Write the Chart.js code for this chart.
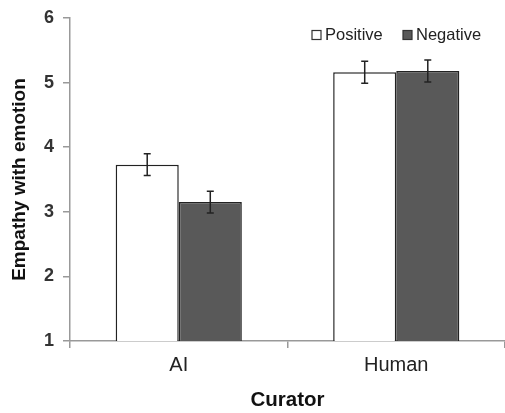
<!DOCTYPE html>
<html>
<head>
<meta charset="utf-8">
<script src="https://cdn.jsdelivr.net/npm/chart.js@4"></script>
<style>
  html, body { margin: 0; padding: 0; background: #fff; }
  #wrap { width: 505px; height: 413px; }
</style>
</head>
<body>
<div id="wrap"><canvas id="chart" width="505" height="413"></canvas></div>
<script>
const categories = ['AI', 'Human'];
const seriesNames = ['Positive', 'Negative'];
const positiveMeans = [3.73, 5.16];
const negativeMeans = [3.15, 5.18];
const positiveErrors = [0.17, 0.17];
const negativeErrors = [0.17, 0.17];
const yTicks = [1, 2, 3, 4, 5, 6];

const errors = [positiveErrors, negativeErrors];
const fillColors = ['#ffffff', '#595959'];
const fontFamily = '"Liberation Sans", Arial, sans-serif';

// error bars drawn on top of each bar
const errorBars = {
    id: 'errorBars',
    afterDatasetsDraw(chart) {
        const ctx = chart.ctx;
        const y = chart.scales.y;
        ctx.save();
        ctx.strokeStyle = '#222';
        ctx.lineWidth = 1.5;
        chart.data.datasets.forEach((ds, di) => {
            const meta = chart.getDatasetMeta(di);
            meta.data.forEach((bar, i) => {
                const v = ds.data[i];
                const e = errors[di][i];
                const top = y.getPixelForValue(v + e);
                const bot = y.getPixelForValue(v - e);
                ctx.beginPath();
                ctx.moveTo(bar.x, top); ctx.lineTo(bar.x, bot);
                ctx.moveTo(bar.x - 3.5, top); ctx.lineTo(bar.x + 3.5, top);
                ctx.moveTo(bar.x - 3.5, bot); ctx.lineTo(bar.x + 3.5, bot);
                ctx.stroke();
            });
        });
        ctx.restore();
    }
};

// legend inside the plot, top right
const innerLegend = {
    id: 'innerLegend',
    afterDraw(chart) {
        const ctx = chart.ctx;
        const pos = [312, 403];
        const cy = 35;
        ctx.save();
        ctx.font = '16.5px ' + fontFamily;
        ctx.textBaseline = 'middle';
        seriesNames.forEach((name, i) => {
            ctx.fillStyle = fillColors[i];
            ctx.strokeStyle = '#333';
            ctx.lineWidth = 1.2;
            ctx.fillRect(pos[i], cy - 4.5, 9, 9);
            ctx.strokeRect(pos[i], cy - 4.5, 9, 9);
            ctx.fillStyle = '#222';
            ctx.fillText(name, pos[i] + 13, cy);
        });
        ctx.restore();
    }
};

new Chart(document.getElementById('chart'), {
    type: 'bar',
    data: {
        labels: categories,
        datasets: [
            { label: seriesNames[0], data: positiveMeans, backgroundColor: fillColors[0], borderColor: '#222', borderWidth: 1.5 },
            { label: seriesNames[1], data: negativeMeans, backgroundColor: fillColors[1], borderColor: '#222', borderWidth: 1.5 }
        ]
    },
    options: {
        responsive: false,
        animation: false,
        layout: { padding: { top: 18, right: 0, left: 0, bottom: 0 } },
        plugins: { legend: { display: false }, tooltip: { enabled: false } },
        datasets: { bar: { barPercentage: 1, categoryPercentage: 0.58 } },
        scales: {
            x: {
                grid: { offset: true, drawOnChartArea: false, tickLength: 7, color: '#999', lineWidth: 1.5 },
                border: { color: '#999', width: 1.5 },
                ticks: { color: '#222', font: { family: fontFamily, size: 20 }, padding: 5 },
                title: { display: true, text: 'Curator', color: '#111', font: { family: fontFamily, size: 20.5, weight: 'bold' }, padding: { top: 10, bottom: 0 } },
                afterFit(s) { s.height = 72; }
            },
            y: {
                min: 1, max: 6,
                afterBuildTicks(s) { s.ticks = yTicks.map(v => ({ value: v })); },
                grid: { drawOnChartArea: false, tickLength: 7, color: '#999', lineWidth: 1.5 },
                border: { color: '#999', width: 1.5 },
                ticks: { color: '#333', font: { family: fontFamily, size: 18, weight: 'bold', lineHeight: 1 }, padding: 9 },
                title: { display: true, text: 'Empathy with emotion', color: '#111', font: { family: fontFamily, size: 19, weight: 'bold' }, padding: { top: 8, bottom: 2 } },
                afterFit(s) { s.width = 70; }
            }
        }
    },
    plugins: [errorBars, innerLegend]
});
</script>
</body>
</html>
